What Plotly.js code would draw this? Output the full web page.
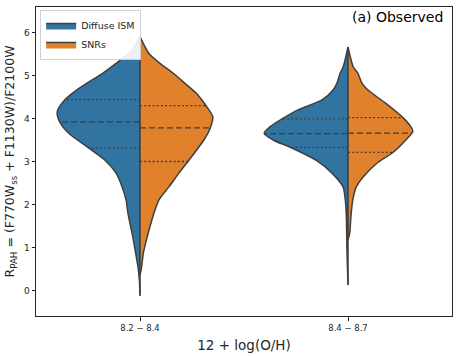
<!DOCTYPE html>
<html>
<head>
<meta charset="utf-8">
<script src="https://cdn.plot.ly/plotly-3.0.1.min.js"></script>
<style>
  html, body { margin: 0; padding: 0; background: #fff; }
  #myPlot { width: 459px; height: 356px; }
</style>
</head>
<body>
<div id="myPlot"></div>
<script>
const myPlot = document.getElementById('myPlot');

/**
 * Data (density profiles: value -> half width)
 */
const groups = ['8.2 − 8.4', '8.4 − 8.7'];
const seriesNames = ['Diffuse ISM', 'SNRs'];

// 8.2 - 8.4
const ismY1 = [5.90, 5.82, 5.59, 5.28, 5.05, 4.82, 4.66, 4.44, 4.16, 3.92, 3.65, 3.34, 3.03, 2.73, 2.41, 2.11, 1.80, 1.49, 1.18, 0.87, 0.56, 0.25, -0.12];
const ismW1 = [0, 0.010, 0.038, 0.115, 0.180, 0.255, 0.305, 0.360, 0.398, 0.386, 0.341, 0.254, 0.168, 0.115, 0.086, 0.067, 0.058, 0.045, 0.032, 0.021, 0.010, 0.003, 0];
const snrY1 = [5.90, 5.51, 5.28, 5.05, 4.82, 4.58, 4.30, 4.04, 3.78, 3.50, 3.03, 2.73, 2.41, 2.11, 1.80, 1.49, 1.18, 0.87, 0.56, 0.36];
const snrW1 = [0, 0.043, 0.096, 0.160, 0.215, 0.272, 0.317, 0.350, 0.338, 0.307, 0.235, 0.187, 0.139, 0.091, 0.067, 0.048, 0.031, 0.016, 0.008, 0];

// 8.4 - 8.7
const ismY2 = [5.66, 5.20, 5.05, 4.82, 4.66, 4.43, 4.20, 3.99, 3.81, 3.65, 3.50, 3.33, 3.03, 2.73, 2.41, 2.11, 1.72, 0.94, 0.13];
const ismW2 = [0, 0.023, 0.038, 0.053, 0.072, 0.125, 0.240, 0.317, 0.374, 0.403, 0.360, 0.278, 0.154, 0.077, 0.024, 0.013, 0.008, 0.005, 0];
const snrY2 = [5.66, 5.20, 5.05, 4.82, 4.66, 4.35, 4.02, 3.81, 3.70, 3.50, 3.21, 2.96, 2.65, 2.41, 2.11, 1.72, 1.33, 1.18];
const snrW2 = [0, 0.025, 0.048, 0.067, 0.096, 0.182, 0.264, 0.302, 0.312, 0.278, 0.216, 0.139, 0.075, 0.040, 0.023, 0.014, 0.008, 0];

// quartiles [q1, median, q3]
const ismQ = [[3.31, 3.92, 4.44], [3.33, 3.65, 3.99]];
const snrQ = [[3.00, 3.78, 4.30], [3.21, 3.66, 4.02]];

const colors = ['#3274a1', '#e1812c'];
const edge = '#3f3f3f';

const profiles = [
  [[ismY1, ismW1], [snrY1, snrW1]],
  [[ismY2, ismW2], [snrY2, snrW2]]
];
const quartiles = [ismQ, snrQ];

// half width at value v, from the profile
const widthAt = (ys, ws, v) => {
  for (let k = 0; k < ys.length - 1; k++) {
    if (v <= ys[k] && v >= ys[k + 1]) {
      const t = (ys[k] - v) / (ys[k] - ys[k + 1]);
      return ws[k] + t * (ws[k + 1] - ws[k]);
    }
  }
  return 0;
}

const data = [];
profiles.forEach((pair, g) => {
  pair.forEach(([ys, ws], s) => {
    const sign = s === 0 ? -1 : 1;
    const xs = [g].concat(ws.map(w => g + sign * w), [g]);
    const yy = [ys[0]].concat(ys, [ys[ys.length - 1]]);
    data.push({
      x: xs,
      y: yy,
      type: 'scatter',
      mode: 'lines',
      fill: 'toself',
      fillcolor: colors[s],
      line: { color: edge, width: 1.5, shape: 'spline', smoothing: 0.7 },
      name: seriesNames[s],
      legendgroup: seriesNames[s],
      showlegend: g === 0,
      hoverinfo: 'skip'
    });
    // center line
    data.push({
      x: [g, g],
      y: [ys[0], ys[ys.length - 1]],
      type: 'scatter', mode: 'lines',
      line: { color: edge, width: 1.5 },
      showlegend: false, hoverinfo: 'skip'
    });
    // quartile lines
    quartiles[s][g].forEach((q, k) => {
      const w = widthAt(ys, ws, q);
      data.push({
        x: [g, g + sign * w],
        y: [q, q],
        type: 'scatter', mode: 'lines',
        line: { color: edge, width: 1.3, dash: k === 1 ? '6px,3px' : '2px,2.2px' },
        showlegend: false, hoverinfo: 'skip'
      });
    });
  });
});

/**
 * Layout
 */
const layout = {
  width: 459,
  height: 356,
  margin: { l: 36, r: 7, t: 7, b: 40 },
  paper_bgcolor: '#fff',
  plot_bgcolor: '#fff',
  font: { family: 'DejaVu Sans', color: '#262626' },
  showlegend: true,
  legend: {
    x: 0.01, y: 0.99, xanchor: 'left', yanchor: 'top',
    bgcolor: 'rgba(255,255,255,0.9)',
    bordercolor: '#d0d0d0', borderwidth: 1,
    font: { size: 9.5, family: 'DejaVu Sans', color: '#262626' },
    itemwidth: 30,
    tracegroupgap: 0
  },
  xaxis: {
    range: [-0.5, 1.5],
    tickvals: [0, 1],
    ticktext: groups,
    tickfont: { size: 8.5 },
    ticks: 'outside', ticklen: 3.5, tickcolor: '#262626',
    showline: true, mirror: true, linecolor: '#262626', linewidth: 1,
    showgrid: false, zeroline: false,
    title: { text: '12 + log(O/H)', font: { size: 13.5 }, standoff: 8 }
  },
  yaxis: {
    range: [-0.59, 6.59],
    tickvals: [0, 1, 2, 3, 4, 5, 6],
    tickfont: { size: 9 },
    ticks: 'outside', ticklen: 3.5, tickcolor: '#262626',
    showline: true, mirror: true, linecolor: '#262626', linewidth: 1,
    showgrid: false, zeroline: false,
    title: { text: 'R<sub>PAH</sub> = (F770W<sub>ss</sub> + F1130W)/F2100W', font: { size: 12.5 }, standoff: 6 }
  },
  annotations: [{
    text: '(a) Observed',
    xref: 'paper', yref: 'paper',
    x: 0.983, y: 1.0, xanchor: 'right', yanchor: 'top',
    showarrow: false,
    font: { size: 14, family: 'DejaVu Sans', color: '#000' }
  }]
};

Plotly.newPlot(myPlot, data, layout, { staticPlot: true });
</script>
</body>
</html>
